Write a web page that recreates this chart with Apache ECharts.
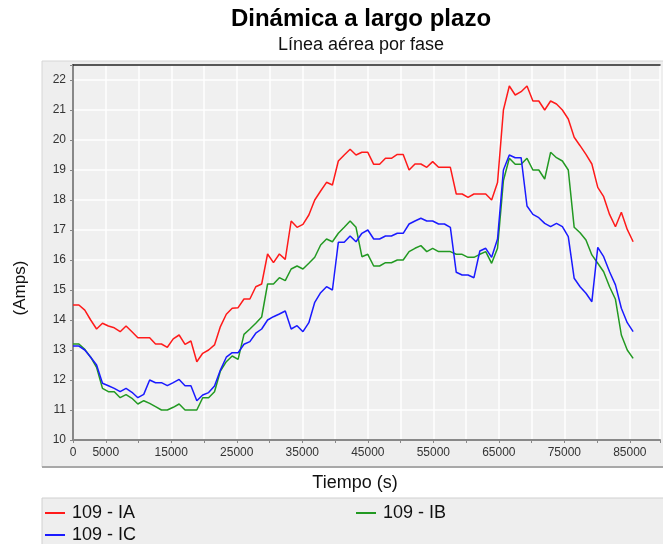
<!DOCTYPE html>
<html>
<head>
<meta charset="utf-8">
<script src="https://cdn.jsdelivr.net/npm/echarts@6/dist/echarts.min.js"></script>
<style>
  html, body { margin: 0; padding: 0; background: #ffffff; overflow: hidden; }
  #chart { width: 663px; height: 544px; }
</style>
</head>
<body>
<div id="chart"></div>
<script>
const times = [0, 900, 1800, 2700, 3600, 4500, 5400, 6300, 7200, 8100,
  9000, 9900, 10800, 11700, 12600, 13500, 14400, 15300, 16200, 17100,
  18000, 18900, 19800, 20700, 21600, 22500, 23400, 24300, 25200, 26100,
  27000, 27900, 28800, 29700, 30600, 31500, 32400, 33300, 34200, 35100,
  36000, 36900, 37800, 38700, 39600, 40500, 41400, 42300, 43200, 44100,
  45000, 45900, 46800, 47700, 48600, 49500, 50400, 51300, 52200, 53100,
  54000, 54900, 55800, 56700, 57600, 58500, 59400, 60300, 61200, 62100,
  63000, 63900, 64800, 65700, 66600, 67500, 68400, 69300, 70200, 71100,
  72000, 72900, 73800, 74700, 75600, 76500, 77400, 78300, 79200, 80100,
  81000, 81900, 82800, 83700, 84600, 85500];

const seriesIA = [14.5, 14.5, 14.33, 14.0, 13.7, 13.89, 13.8, 13.74, 13.61, 13.8,
  13.61, 13.41, 13.41, 13.41, 13.2, 13.2, 13.09, 13.37, 13.5, 13.19,
  13.3, 12.61, 12.89, 13.0, 13.17, 13.78, 14.19, 14.39, 14.41, 14.7,
  14.7, 15.11, 15.2, 16.2, 15.91, 16.2, 16.02, 17.3, 17.09, 17.19,
  17.5, 18.0, 18.3, 18.59, 18.5, 19.3, 19.5, 19.69, 19.5, 19.59,
  19.59, 19.19, 19.19, 19.39, 19.39, 19.52, 19.52, 19.0, 19.2, 19.2,
  19.09, 19.28, 19.09, 19.09, 19.09, 18.2, 18.2, 18.09, 18.2, 18.2,
  18.2, 18.0, 18.58, 21.0, 21.8, 21.5, 21.61, 21.8, 21.3, 21.3,
  21.0, 21.3, 21.2, 21.0, 20.7, 20.09, 19.81, 19.52, 19.2, 18.42,
  18.11, 17.52, 17.11, 17.59, 17.02, 16.61];

const seriesIB = [13.2, 13.2, 13.02, 12.76, 12.42, 11.72, 11.61, 11.61, 11.41, 11.51,
  11.39, 11.2, 11.31, 11.22, 11.11, 11.0, 11.0, 11.09, 11.2, 11.0,
  11.0, 11.0, 11.41, 11.41, 11.61, 12.3, 12.61, 12.8, 12.69, 13.52,
  13.7, 13.89, 14.1, 15.2, 15.2, 15.41, 15.31, 15.7, 15.8, 15.7,
  15.89, 16.09, 16.5, 16.7, 16.61, 16.89, 17.09, 17.3, 17.09, 16.11,
  16.19, 15.8, 15.8, 15.91, 15.91, 16.0, 16.0, 16.28, 16.39, 16.48,
  16.28, 16.39, 16.28, 16.28, 16.28, 16.19, 16.19, 16.09, 16.09, 16.19,
  16.28, 15.89, 16.39, 18.65, 19.39, 19.19, 19.19, 19.39, 19.0, 19.0,
  18.7, 19.59, 19.41, 19.3, 19.0, 17.09, 16.91, 16.67, 16.17, 15.89,
  15.61, 15.11, 14.69, 13.5, 13.0, 12.72];

const seriesIC = [13.13, 13.13, 13.0, 12.76, 12.5, 11.89, 11.81, 11.72, 11.61, 11.72,
  11.59, 11.41, 11.52, 12.0, 11.91, 11.91, 11.81, 11.91, 12.02, 11.81,
  11.81, 11.31, 11.5, 11.58, 11.8, 12.33, 12.76, 12.91, 12.91, 13.19,
  13.28, 13.56, 13.7, 14.0, 14.11, 14.2, 14.3, 13.7, 13.81, 13.61,
  13.91, 14.59, 14.91, 15.11, 15.0, 16.59, 16.59, 16.8, 16.61, 16.89,
  17.0, 16.7, 16.7, 16.8, 16.8, 16.89, 16.89, 17.2, 17.3, 17.39,
  17.3, 17.3, 17.2, 17.2, 17.09, 15.59, 15.5, 15.5, 15.41, 16.3,
  16.39, 16.09, 16.7, 19.0, 19.5, 19.41, 19.41, 17.8, 17.52, 17.41,
  17.22, 17.11, 17.22, 17.11, 16.78, 15.39, 15.11, 14.89, 14.61, 16.42,
  16.11, 15.61, 15.17, 14.39, 13.91, 13.61];

const seriesNames = ['109 - IA', '109 - IB', '109 - IC'];
const xTickLabels = [0, 5000, 15000, 25000, 35000, 45000, 55000, 65000, 75000, 85000];
const yTickLabels = [10, 11, 12, 13, 14, 15, 16, 17, 18, 19, 20, 21, 22];

const FONT = '"Liberation Sans", Arial, sans-serif';
const chart = echarts.init(document.getElementById('chart'), null, { renderer: 'canvas' });

function pairs(vals) { return times.map((t, i) => [t, vals[i]]); }

const legendText = { fontFamily: FONT, fontSize: 18, color: '#111111', padding: [0, 0, 0, 2] };
function legendItem(name, left, top) {
  return { data: [name], orient: 'horizontal', left: left, top: top,
    itemWidth: 20, itemHeight: 2, icon: 'rect', padding: 0, textStyle: legendText };
}

const option = {
  animation: false,
  backgroundColor: '#ffffff',
  title: {
    text: 'Dinámica a largo plazo',
    subtext: 'Línea aérea por fase',
    left: 356,
    textAlign: 'center',
    top: 2,
    itemGap: 5,
    textStyle: { fontFamily: FONT, fontSize: 24, fontWeight: 'bold', color: '#000000' },
    subtextStyle: { fontFamily: FONT, fontSize: 18, color: '#111111' }
  },
  graphic: [
    { type: 'rect', z: -10, shape: { x: 42, y: 61, width: 640, height: 406 },
      style: { fill: '#eeeeee', stroke: '#d6d6d6', lineWidth: 1 } },
    { type: 'line', z: -9, shape: { x1: 42, y1: 467, x2: 663, y2: 467 },
      style: { stroke: '#a8a8a8', lineWidth: 2 } },
    { type: 'rect', z: -10, shape: { x: 42, y: 498, width: 640, height: 60 },
      style: { fill: '#eeeeee', stroke: '#d0d0d0', lineWidth: 1 } },
    { type: 'text', x: 355, y: 483,
      style: { text: 'Tiempo (s)', font: '18px ' + FONT, fill: '#111111', textAlign: 'center', textVerticalAlign: 'middle' } },
    { type: 'text', x: 20, y: 288, rotation: Math.PI / 2,
      style: { text: '(Amps)', font: '17px ' + FONT, fill: '#111111', textAlign: 'center', textVerticalAlign: 'middle' } }
  ],
  legend: [
    legendItem(seriesNames[0], 45, 504),
    legendItem(seriesNames[2], 45, 526),
    legendItem(seriesNames[1], 356, 504)
  ],
  grid: { left: 73, top: 65, right: 0, bottom: 104, show: true, backgroundColor: '#f0f0f0', borderWidth: 0 },
  xAxis: [{
    type: 'value', min: 0, max: 89600, interval: 5000,
    axisLine: { show: true, lineStyle: { color: '#888888', width: 2 } },
    axisTick: { show: true, length: 3, lineStyle: { color: '#888888' } },
    axisLabel: { fontFamily: FONT, fontSize: 12, color: '#333333', margin: 7,
      formatter: v => xTickLabels.indexOf(v) >= 0 ? String(v) : '' },
    splitLine: { show: true, lineStyle: { color: '#ffffff', width: 1.5 } }
  }, {
    type: 'value', position: 'top', min: 0, max: 89600,
    axisLine: { show: true, lineStyle: { color: '#222222', width: 1.5 } },
    axisTick: { show: false }, axisLabel: { show: false }, splitLine: { show: false }
  }],
  yAxis: {
    type: 'value', min: 10, max: 22.5, interval: 1,
    axisLine: { show: true, lineStyle: { color: '#888888', width: 2 } },
    axisTick: { show: true, length: 3, lineStyle: { color: '#888888' } },
    axisLabel: { fontFamily: FONT, fontSize: 12, color: '#333333', margin: 7,
      formatter: v => yTickLabels.indexOf(v) >= 0 ? String(v) : '' },
    splitLine: { show: true, lineStyle: { color: '#ffffff', width: 1.5 } }
  },
  series: [
    { name: seriesNames[0], type: 'line', data: pairs(seriesIA), showSymbol: false, symbol: 'none',
      lineStyle: { color: '#ff1a1a', width: 1.5 }, itemStyle: { color: '#ff1a1a' } },
    { name: seriesNames[1], type: 'line', data: pairs(seriesIB), showSymbol: false, symbol: 'none',
      lineStyle: { color: '#229922', width: 1.5 }, itemStyle: { color: '#229922' } },
    { name: seriesNames[2], type: 'line', data: pairs(seriesIC), showSymbol: false, symbol: 'none',
      lineStyle: { color: '#1a1aff', width: 1.5 }, itemStyle: { color: '#1a1aff' } }
  ]
};
chart.setOption(option);
</script>
</body>
</html>
